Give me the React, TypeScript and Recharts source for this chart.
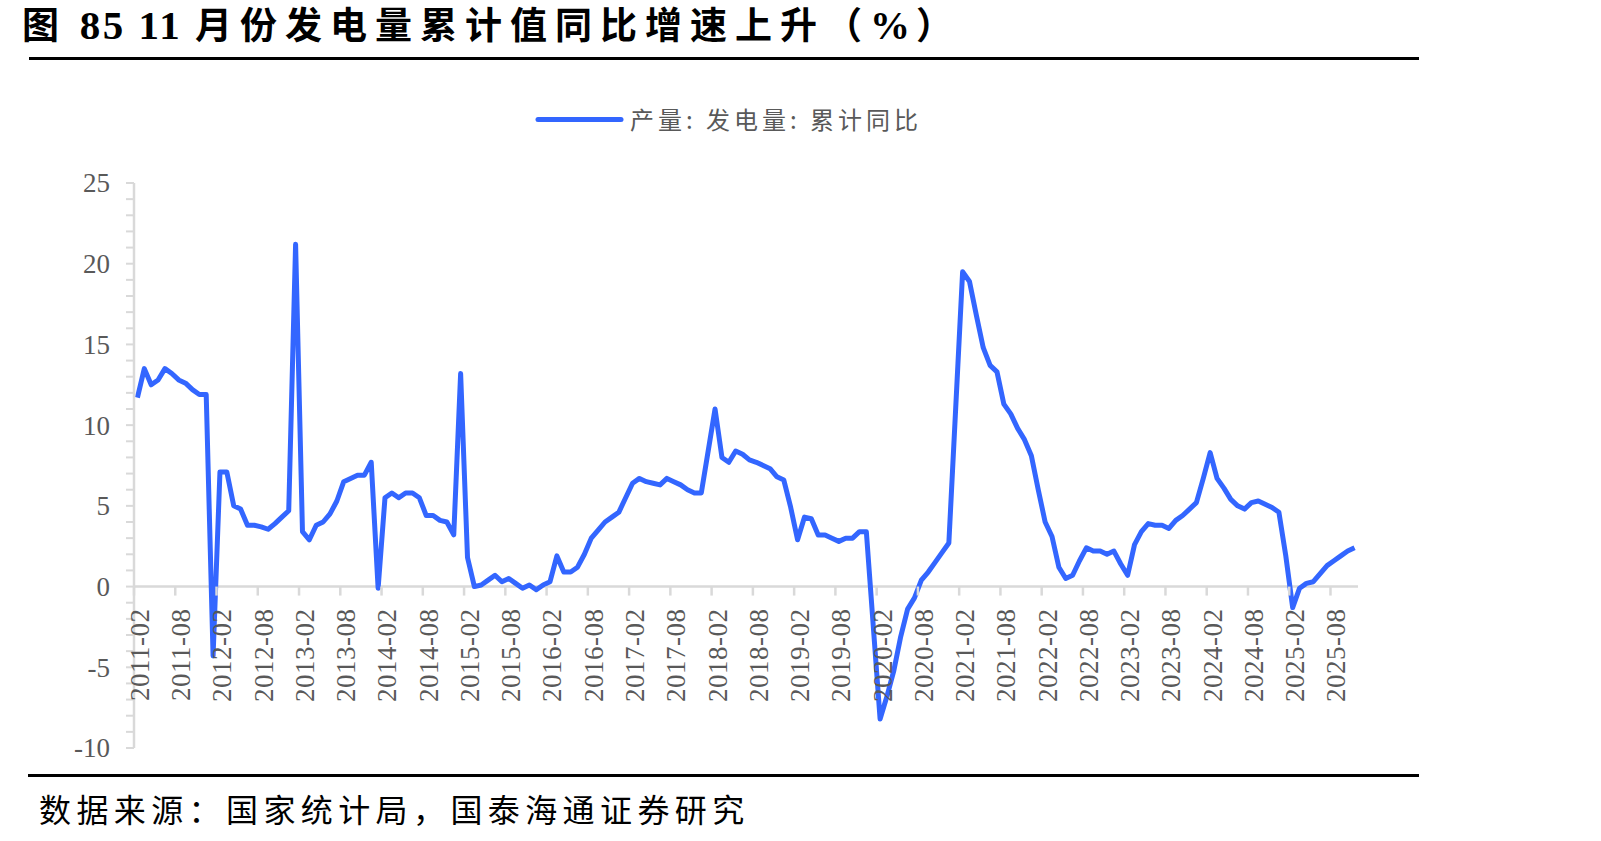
import React from 'react';
import { LineChart, Line, XAxis, YAxis, ReferenceLine } from 'recharts';

// 发电量累计同比（%），按年份分组；2011 年从 2 月开始
const YEAR_START = 2011;
const values2011 = [11.7, 13.5, 12.5, 12.8, 13.5, 13.2, 12.8, 12.6, 12.2, 11.9, 11.9];
const values2012 = [-4.3, 7.1, 7.1, 5.0, 4.8, 3.8, 3.8, 3.7, 3.55, 3.9, 4.3, 4.7];
const values2013 = [21.2, 3.4, 2.9, 3.8, 4.0, 4.5, 5.3, 6.5, 6.7, 6.9, 6.9, 7.7];
const values2014 = [-0.1, 5.5, 5.8, 5.5, 5.8, 5.8, 5.5, 4.4, 4.4, 4.1, 4.0, 3.2];
const values2015 = [13.2, 1.8, 0.0, 0.1, 0.4, 0.7, 0.3, 0.5, 0.2, -0.1, 0.1, -0.2];
const values2016 = [0.1, 0.3, 1.9, 0.9, 0.9, 1.2, 2.0, 3.0, 3.5, 4.0, 4.3, 4.6];
const values2017 = [5.5, 6.4, 6.7, 6.5, 6.4, 6.3, 6.7, 6.5, 6.3, 6.0, 5.8, 5.8];
const values2018 = [8.4, 11.0, 8.0, 7.7, 8.4, 8.2, 7.85, 7.7, 7.5, 7.3, 6.8, 6.6];
const values2019 = [4.9, 2.9, 4.3, 4.2, 3.2, 3.2, 3.0, 2.8, 3.0, 3.0, 3.4, 3.4];
const values2020 = [-2.4, -8.2, -6.8, -5.2, -3.1, -1.4, -0.7, 0.4, 0.9, 1.5, 2.1, 2.7];
const values2021 = [11.1, 19.5, 18.9, 16.8, 14.8, 13.7, 13.3, 11.3, 10.7, 9.8, 9.1, 8.1];
const values2022 = [6.0, 4.0, 3.1, 1.2, 0.5, 0.7, 1.6, 2.4, 2.2, 2.2, 2.0, 2.2];
const values2023 = [1.4, 0.7, 2.6, 3.4, 3.9, 3.8, 3.8, 3.6, 4.1, 4.4, 4.8, 5.2];
const values2024 = [6.7, 8.3, 6.7, 6.1, 5.4, 5.0, 4.8, 5.2, 5.3, 5.1, 4.9, 4.6];
const values2025 = [1.9, -1.3, -0.1, 0.2, 0.3, 0.8, 1.3, 1.6, 1.9, 2.2, 2.4];

const YEARLY = [
  values2011, values2012, values2013, values2014, values2015,
  values2016, values2017, values2018, values2019, values2020,
  values2021, values2022, values2023, values2024, values2025,
];

const Y_MIN = -10;
const Y_MAX = 25;

const SERIES_NAME = '产量: 发电量: 累计同比';
const SOURCE = '数据来源：国家统计局，国泰海通证券研究';

type Row = { idx: number; month: string; value: number };

const data: Row[] = [];
YEARLY.forEach((vals, y) => {
  const year = YEAR_START + y;
  const firstMonth = y === 0 ? 2 : 1;
  vals.forEach((v, k) => {
    const m = firstMonth + k;
    data.push({ idx: data.length, month: `${year}-${String(m).padStart(2, '0')}`, value: v });
  });
});

// 每半年一个标签：2 月和 8 月
const labelTicks = data.filter((d) => d.month.endsWith('-02') || d.month.endsWith('-08')).map((d) => d.idx);

// minor ticks on the value axis, one per unit
const minorTicks: number[] = [];
for (let v = Y_MIN; v <= Y_MAX; v++) minorTicks.push(v);

const W = 1601;
const H = 841;
const PLOT_LEFT = 134;
const PLOT_RIGHT = 1358;
const PLOT_TOP = 183;
const PLOT_BOTTOM = 748;
const Y_AXIS_W = 60;
const X_AXIS_H = 1;

const ZERO_Y = PLOT_TOP + ((PLOT_BOTTOM - PLOT_TOP) * Y_MAX) / (Y_MAX - Y_MIN);
const HALF_STEP = (PLOT_RIGHT - PLOT_LEFT) / data.length / 2;

const BLUE = '#3366FF';
const AXIS_GRAY = '#D9D9D9';
const LABEL_GRAY = '#595959';
const SERIF = "'Liberation Serif', 'Times New Roman', serif";
const CJK = "'Noto Sans CJK SC', 'Noto Sans', sans-serif";

const MonthTick = (props: any) => {
  const { x, payload } = props;
  const label = data[payload.value] ? data[payload.value].month : '';
  return (
    <g>
      <line
        x1={x - HALF_STEP}
        x2={x - HALF_STEP}
        y1={ZERO_Y}
        y2={ZERO_Y + 9}
        stroke={AXIS_GRAY}
        strokeWidth={2.5}
      />
      <text
        transform={`translate(${x + 2},${ZERO_Y + 22}) rotate(-90)`}
        textAnchor="end"
        dy="0.35em"
        fill={LABEL_GRAY}
        fontSize={27}
        fontFamily={SERIF}
        letterSpacing={0.5}
      >
        {label}
      </text>
    </g>
  );
};

const ValueTick = (props: any) => {
  const { x, y, payload } = props;
  if (payload.value % 5 !== 0) return null;
  return (
    <text x={x} y={y} dy="0.35em" textAnchor="end" fill={LABEL_GRAY} fontSize={27} fontFamily={SERIF}>
      {payload.value}
    </text>
  );
};

const cjkSpan = { letterSpacing: 8 };
const digitSpan = { fontSize: 41, letterSpacing: 2.5 };

export default function App() {
  return (
    <div
      style={{
        position: 'absolute',
        left: 0,
        top: 0,
        width: W,
        height: H,
        background: '#FFFFFF',
        overflow: 'hidden',
      }}
    >
      {/* 标题 */}
      <div
        style={{
          position: 'absolute',
          left: 22,
          top: 7,
          fontSize: 37,
          lineHeight: '37px',
          fontWeight: 700,
          fontFamily: `'Liberation Serif', 'Noto Sans CJK SC', serif`,
          color: '#000',
          whiteSpace: 'pre',
        }}
      >
        <span style={cjkSpan}>图</span>
        <span style={digitSpan}> 85 11 </span>
        <span style={cjkSpan}>月份发电量累计值同比增速上升（</span>
        <span style={{ fontSize: 40, letterSpacing: 6 }}>%</span>
        <span>）</span>
      </div>
      <div style={{ position: 'absolute', left: 29, top: 57, width: 1390, height: 3, background: '#000' }} />

      {/* Legend */}
      <svg style={{ position: 'absolute', left: 530, top: 105 }} width={100} height={30}>
        <line x1={8} x2={91} y1={14.5} y2={14.5} stroke={BLUE} strokeWidth={5} strokeLinecap="round" />
      </svg>
      <div
        style={{
          position: 'absolute',
          left: 630,
          top: 104,
          height: 29,
          lineHeight: '29px',
          fontSize: 24,
          fontFamily: CJK,
          letterSpacing: 4,
          color: LABEL_GRAY,
          whiteSpace: 'nowrap',
        }}
      >
        {SERIES_NAME}
      </div>

      <div style={{ position: 'absolute', left: 0, top: 0 }}>
        <LineChart
          width={W}
          height={H}
          data={data}
          margin={{
            top: PLOT_TOP,
            right: W - PLOT_RIGHT,
            bottom: H - PLOT_BOTTOM - X_AXIS_H,
            left: PLOT_LEFT - Y_AXIS_W,
          }}
        >
          <XAxis
            dataKey="idx"
            type="number"
            domain={[-0.5, data.length - 0.5]}
            ticks={labelTicks}
            interval={0}
            height={X_AXIS_H}
            axisLine={false}
            tickLine={false}
            tick={<MonthTick />}
          />
          <YAxis
            type="number"
            width={Y_AXIS_W}
            domain={[Y_MIN, Y_MAX]}
            ticks={minorTicks}
            interval={0}
            axisLine={{ stroke: AXIS_GRAY, strokeWidth: 2.5 }}
            tickLine={{ stroke: AXIS_GRAY, strokeWidth: 2 }}
            tickSize={8}
            tickMargin={16}
            tick={<ValueTick />}
          />
          <ReferenceLine y={0} stroke={AXIS_GRAY} strokeWidth={2.5} />
          <Line
            type="linear"
            dataKey="value"
            stroke={BLUE}
            strokeWidth={5}
            strokeLinejoin="round"
            dot={false}
            activeDot={false}
            isAnimationActive={false}
          />
        </LineChart>
      </div>

      {/* 数据来源 */}
      <div style={{ position: 'absolute', left: 28, top: 774, width: 1391, height: 3, background: '#000' }} />
      <div
        style={{
          position: 'absolute',
          left: 39,
          top: 790,
          fontSize: 32,
          lineHeight: '36px',
          fontFamily: CJK,
          letterSpacing: 5.4,
          color: '#000',
          whiteSpace: 'nowrap',
        }}
      >
        {SOURCE}
      </div>
    </div>
  );
}
